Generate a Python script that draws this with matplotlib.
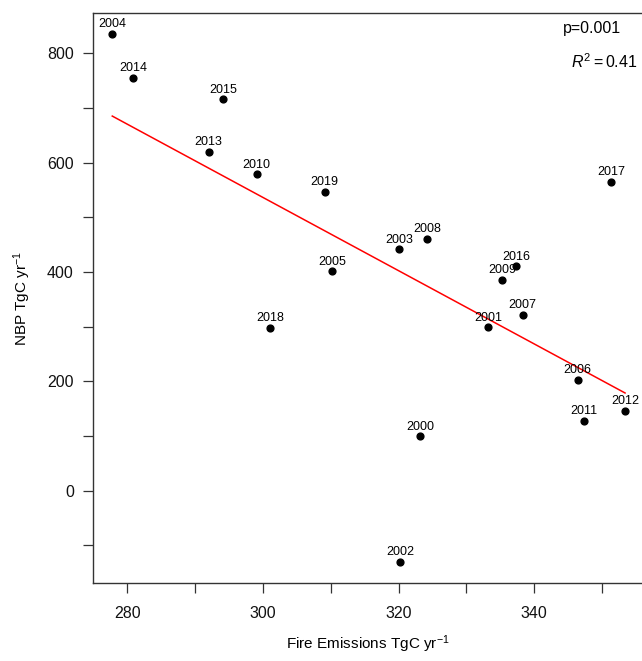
import matplotlib.pyplot as plt
import numpy as np

plt.rcParams['font.family'] = ['Liberation Sans', 'DejaVu Sans']
plt.rcParams['mathtext.fontset'] = 'custom'
plt.rcParams['mathtext.rm'] = 'Liberation Sans'
plt.rcParams['mathtext.it'] = 'Liberation Sans:italic'

# values
years = [2000, 2001, 2002, 2003, 2004, 2005, 2006, 2007, 2008, 2009,
         2010, 2011, 2012, 2013, 2014, 2015, 2016, 2017, 2018, 2019]
fire = [323.2, 333.2, 320.2, 320.1, 277.8, 310.2, 346.4, 338.3, 324.2, 335.3,
        299.1, 347.3, 353.4, 292.0, 280.9, 294.1, 337.3, 351.4, 301.1, 309.1]
nbp = [100, 299, -130, 442, 836, 401, 203, 322, 461, 386,
       579, 128, 146, 620, 755, 716, 410, 565, 298, 547]

x = np.array(fire)
y = np.array(nbp)

fig = plt.figure(figsize=(6.42, 6.61), dpi=100)
ax = fig.add_axes([0.1453, 0.1175, 0.8547, 0.8624])

ax.scatter(x, y, s=24, color='black', zorder=3)
for yr, xi, yi in zip(years, x, y):
    ax.annotate(str(yr), (xi, yi), xytext=(0, 2.5), textcoords='offset points',
                ha='center', va='bottom', fontsize=9)

# least squares line over data range
k, b = np.polyfit(x, y, 1)
xs = np.array([x.min(), x.max()])
ax.plot(xs, k * xs + b, color='red', lw=1.1, zorder=2)

ax.set_xlim(275, 355.9)
ax.set_ylim(-169.4, 873)

ax.set_xticks(np.arange(280, 351, 10))
ax.set_xticklabels([str(v) if v % 20 == 0 else '' for v in range(280, 351, 10)])
ax.set_yticks(np.arange(-100, 801, 100))
ax.set_yticklabels([str(v) if v % 200 == 0 else '' for v in range(-100, 801, 100)])

ax.tick_params(direction='out', length=7, width=0.9, color='#333333',
               labelsize=11.5, labelcolor='#111111')
ax.tick_params(axis='x', pad=9)
ax.tick_params(axis='y', pad=7)
for side in ['left', 'bottom', 'top']:
    ax.spines[side].set_linewidth(1.0)
    ax.spines[side].set_color('#333333')
ax.spines['right'].set_visible(False)

ax.set_xlabel('Fire Emissions TgC yr$^{-1}$', fontsize=11, labelpad=9)
ax.set_ylabel('NBP TgC yr$^{-1}$', fontsize=11, labelpad=10)

ax.text(0.962, 0.974, 'p=0.001', transform=ax.transAxes, ha='right', va='center', fontsize=11.5)
ax.text(0.992, 0.916, '$R^2 = 0.41$', transform=ax.transAxes, ha='right', va='center', fontsize=11.5)

fig.savefig('out.png', dpi=100)
